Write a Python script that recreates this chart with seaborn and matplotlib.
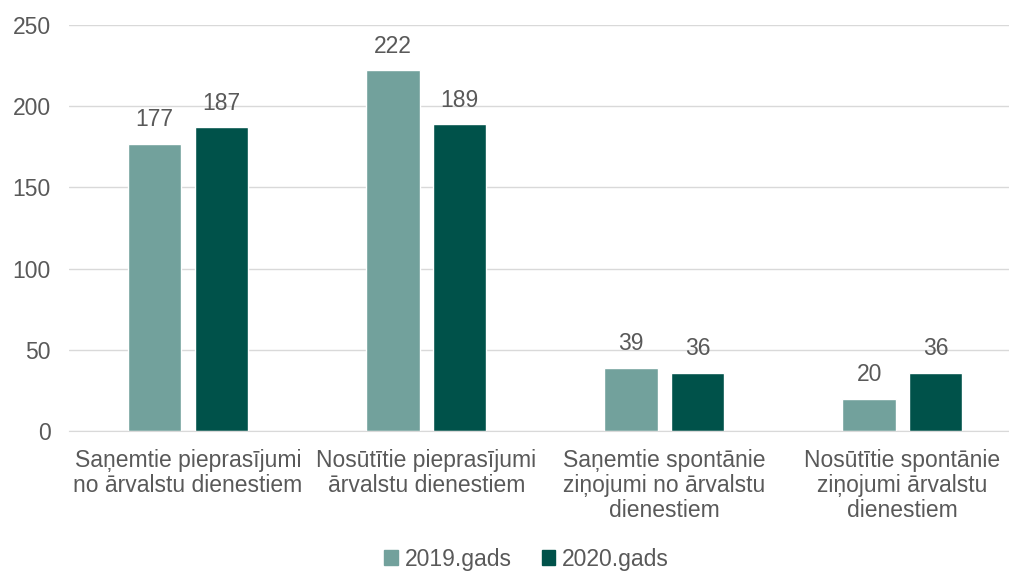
import pandas as pd
import matplotlib.pyplot as plt
import seaborn as sns
from matplotlib.patches import Patch

# data
categories = [
    'Saņemtie pieprasījumi\nno ārvalstu dienestiem',
    'Nosūtītie pieprasījumi\nārvalstu dienestiem',
    'Saņemtie spontānie\nziņojumi no ārvalstu\ndienestiem',
    'Nosūtītie spontānie\nziņojumi ārvalstu\ndienestiem',
]
years = ['2019.gads', '2020.gads']
values_2019 = [177, 222, 39, 20]
values_2020 = [187, 189, 36, 36]

df = pd.DataFrame({
    'category': categories * 2,
    'year': [years[0]] * 4 + [years[1]] * 4,
    'value': values_2019 + values_2020,
})

colors = ['#72A19C', '#00524A']
text_col = '#595959'
fs = 16.5

sns.set_style('white')
plt.rcParams['font.family'] = ['Liberation Sans', 'DejaVu Sans']

fig = plt.figure(figsize=(10.09, 5.74), dpi=100)
ax = fig.add_axes([0.0684, 0.2491, 0.944, 0.7073])

sns.barplot(data=df, x='category', y='value', hue='year', palette=colors,
            width=0.56, gap=0.2, legend=False, ax=ax, saturation=1)

for c in ax.containers:
    ax.bar_label(c, padding=9, fontsize=fs, color=text_col)

ax.set_ylim(0, 250)
ax.set_yticks(range(0, 251, 50))
ax.yaxis.grid(True, color='#D9D9D9', linewidth=1)
ax.set_axisbelow(True)
for s in ['top', 'right', 'left']:
    ax.spines[s].set_visible(False)
ax.spines['bottom'].set_color('#D9D9D9')
ax.tick_params(axis='both', length=0, labelsize=fs, colors=text_col)
ax.tick_params(axis='y', pad=13)
ax.tick_params(axis='x', pad=13)
ax.set_xlabel('')
ax.set_ylabel('')
for t in ax.get_xticklabels():
    t.set_linespacing(1.1)
    t.set_ha('center')

handles = [Patch(color=colors[i], label=years[i]) for i in range(2)]
fig.legend(handles=handles, loc='lower center', bbox_to_anchor=(0.522, -0.03), ncol=2,
           frameon=False, fontsize=fs, handlelength=0.6, handleheight=0.6,
           handletextpad=0.3, columnspacing=1.3, labelcolor=text_col)

fig.savefig('out.png', dpi=100)
